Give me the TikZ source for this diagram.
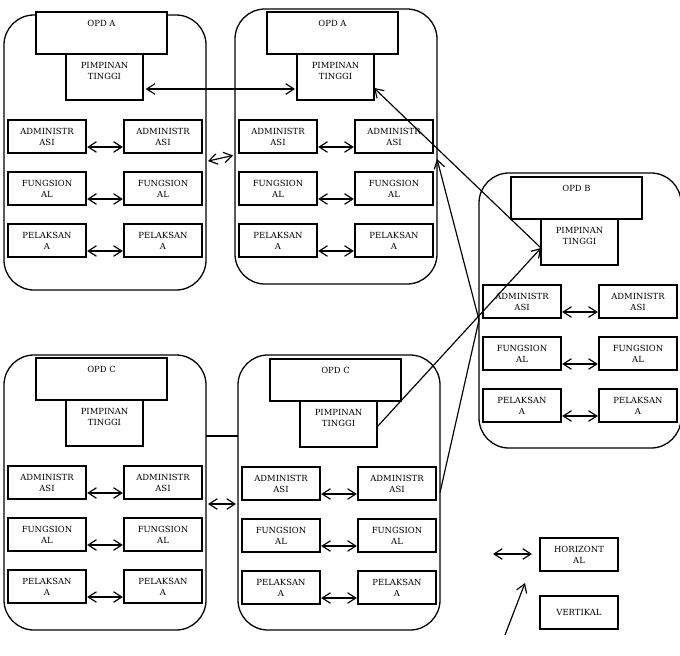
\documentclass[tikz,border=0pt]{standalone}
\usepackage{fontspec}
\setmainfont{DejaVu Serif}
\usetikzlibrary{arrows.meta,positioning}

\tikzset{
  boxtext/.style={font=\fontsize{7.2}{9.4}\selectfont, align=center},
  blockbox/.style={draw, line width=1.1pt, rounded corners=0.9cm, minimum width=6.06cm,
    minimum height=8.25cm, anchor=north west, outer sep=0pt},
  headbox/.style={draw, line width=1.3pt, fill=white, minimum width=3.93cm, minimum height=1.26cm,
    outer sep=0pt, label={[boxtext, anchor=north, yshift=-3.5pt]north:#1}},
  unitbox/.style={draw, line width=1.3pt, boxtext, minimum width=2.34cm, minimum height=0.99cm,
    inner sep=1pt, outer sep=0pt},
  biarrow/.style={{Straight Barb[length=7pt,width=9pt]}-{Straight Barb[length=7pt,width=9pt]}, line width=1pt},
  onearrow/.style={-{Straight Barb[length=7pt,width=9pt]}, line width=1pt}
}

\begin{document}
\begin{tikzpicture}[x=0.03cm,y=-0.03cm]
  \useasboundingbox (0,0) rectangle (680,656);

  % the five OPD blocks
  \foreach \n/\ox/\oy/\lbl/\bt in {a1/36/12/OPD A/15, a2/267/12/OPD A/9, b/511/177/OPD B/173,
                                   c1/36/358/OPD C/355, c2/270/359/OPD C/355}{
    \node[blockbox] (\n) at (\ox-32,\bt) {};
    \node[headbox=\lbl, anchor=north west] (\n-opd) at (\ox,\oy) {};
    \node[headbox={PIMPINAN\\TINGGI}, minimum width=2.31cm, minimum height=1.38cm,
          below=0pt of \n-opd, xshift=0.09cm] (\n-pim) {};
    \node[unitbox, anchor=north west] (\n-adm-l) at (\ox-28,\oy+108) {ADMINISTR\\ASI};
    \node[unitbox, right=1.14cm of \n-adm-l] (\n-adm-r) {ADMINISTR\\ASI};
    \node[unitbox, below=0.57cm of \n-adm-l] (\n-fun-l) {FUNGSION\\AL};
    \node[unitbox, right=1.14cm of \n-fun-l] (\n-fun-r) {FUNGSION\\AL};
    \node[unitbox, below=0.57cm of \n-fun-l] (\n-pel-l) {PELAKSAN\\A};
    \node[unitbox, right=1.14cm of \n-pel-l] (\n-pel-r) {PELAKSAN\\A};
    \foreach \r in {adm,fun,pel}
      \draw[biarrow, shorten <=1pt, shorten >=1pt] ([yshift=0.18cm]\n-\r-l.south east) -- ([yshift=0.18cm]\n-\r-r.south west);
  }

  % links between the blocks
  \draw[biarrow, shorten <=0.06cm, shorten >=0.06cm] ([yshift=-0.27cm]a1.east) -- ([yshift=-0.255cm]a2.west);
  \draw[biarrow, shorten <=0.08cm, shorten >=0.06cm] ([yshift=-0.36cm]a1-pim.east) -- ([yshift=-0.36cm]a2-pim.west);
  \draw[onearrow] ([yshift=-0.18cm]b-pim.west) -- ([yshift=-0.33cm]a2-pim.east);
  \draw[onearrow] ([yshift=-0.09cm]c2-pim.east) -- ([yshift=-0.18cm]b-pim.west);
  \draw[onearrow] (c2.east) -- ([yshift=-0.285cm]b.west) -- ([yshift=-0.375cm]a2.east);
  \coordinate (cline) at (0,436);
  \draw[line width=1pt] (c1.east |- cline) -- (c2.west |- cline);
  \draw[biarrow, shorten <=0.06cm, shorten >=0.06cm] ([yshift=-0.345cm]c1.east) -- ([yshift=-0.345cm]c2.west);

  % legend
  \node[unitbox, anchor=north west] (hz) at (540,538) {HORIZONT\\AL};
  \node[unitbox, below=0.75cm of hz] (vt) {VERTIKAL};
  \coordinate (hz-a) at (493,554);
  \coordinate (hz-b) at (532,554);
  \draw[biarrow] (hz-a) -- (hz-b);
  \coordinate (vt-a) at (505,635);
  \coordinate (vt-b) at (525,583);
  \draw[onearrow] (vt-a) -- (vt-b);
\end{tikzpicture}
\end{document}
